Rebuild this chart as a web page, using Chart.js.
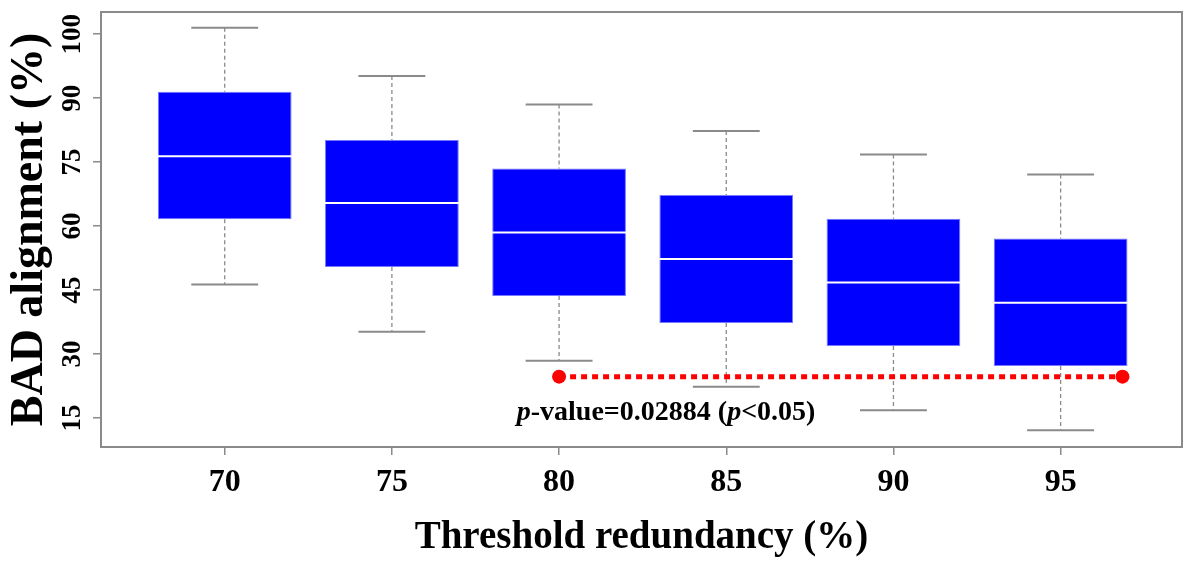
<!DOCTYPE html>
<html>
<head>
<meta charset="UTF-8">
<title>boxplot.html</title>
<style>
	body {margin: 0; background: #fff;}
	#wrap {width: 1189px; height: 561px;}
</style>
</head>
<body>
	<div id="wrap"><canvas id="boxChart"></canvas></div>
</body>
<script src="https://cdn.jsdelivr.net/npm/chart.js@4.4.0/dist/chart.umd.min.js"></script>
<script>
	// data
	const categories = [70, 75, 80, 85, 90, 95];
	const whiskerHigh = [106.5, 95.2, 88.5, 82.3, 76.8, 72.1];
	const q3 = [91.5, 80.2, 73.5, 67.3, 61.7, 57.1];
	const median = [76.4, 65.4, 58.5, 52.3, 46.8, 42.0];
	const q1 = [61.6, 50.4, 43.6, 37.3, 31.9, 27.2];
	const whiskerLow = [46.3, 35.2, 28.4, 22.3, 16.8, 12.1];

	// axis ticks (top tick is printed as 100)
	const yTickValues = [15, 30, 45, 60, 75, 90, 105];
	const yTickLabels = ['15', '30', '45', '60', '75', '90', '100'];

	// significance line between 80 and 95
	const pLineX = [80, 96.85];
	const pLineY = [24.7, 24.7];
	const pTextPos = [83.2, 16.2];
	const pTextParts = [['p', true], ['-value=0.02884 (', false], ['p', true], ['<0.05)', false]];

	const serif = "'Liberation Serif', 'Times New Roman', serif";
	const gray = '#8a8a8a';

	// whiskers behind the boxes, medians + frame + text on top
	const boxPlugin = {
		id: 'boxParts',
		beforeDatasetsDraw(chart) {
			const ctx = chart.ctx;
			const x = chart.scales.x, y = chart.scales.y;
			ctx.save();
			for (let i = 0; i < categories.length; i++) {
				const cx = x.getPixelForValue(categories[i]);
				ctx.strokeStyle = gray;
				ctx.lineWidth = 1.3;
				ctx.setLineDash([4, 3]);
				ctx.beginPath();
				ctx.moveTo(cx, y.getPixelForValue(whiskerHigh[i]));
				ctx.lineTo(cx, y.getPixelForValue(q3[i]));
				ctx.moveTo(cx, y.getPixelForValue(q1[i]));
				ctx.lineTo(cx, y.getPixelForValue(whiskerLow[i]));
				ctx.stroke();
				ctx.setLineDash([]);
				ctx.lineWidth = 2;
				const l = x.getPixelForValue(categories[i] - 1), r = x.getPixelForValue(categories[i] + 1);
				ctx.beginPath();
				[whiskerHigh[i], whiskerLow[i]].forEach(function(v) {
					const py = y.getPixelForValue(v);
					ctx.moveTo(l, py);
					ctx.lineTo(r, py);
				});
				ctx.stroke();
			}
			ctx.restore();
		},
		afterDatasetsDraw(chart) {
			const ctx = chart.ctx;
			const x = chart.scales.x, y = chart.scales.y;
			ctx.save();
			ctx.strokeStyle = '#ffffff';
			ctx.lineWidth = 2;
			for (let i = 0; i < categories.length; i++) {
				const py = y.getPixelForValue(median[i]);
				ctx.beginPath();
				ctx.moveTo(x.getPixelForValue(categories[i] - 2), py);
				ctx.lineTo(x.getPixelForValue(categories[i] + 2), py);
				ctx.stroke();
			}
			// p-value text, italic p
			ctx.fillStyle = '#000';
			ctx.textBaseline = 'middle';
			ctx.textAlign = 'left';
			let total = 0;
			const widths = pTextParts.map(function(p) {
				ctx.font = (p[1] ? 'italic ' : '') + 'bold 28px ' + serif;
				const w = ctx.measureText(p[0]).width;
				total += w;
				return w;
			});
			let tx = x.getPixelForValue(pTextPos[0]) - total / 2;
			const ty = y.getPixelForValue(pTextPos[1]);
			pTextParts.forEach(function(p, k) {
				ctx.font = (p[1] ? 'italic ' : '') + 'bold 28px ' + serif;
				ctx.fillText(p[0], tx, ty);
				tx += widths[k];
			});
			// frame
			const a = chart.chartArea;
			ctx.strokeStyle = gray;
			ctx.lineWidth = 2;
			ctx.strokeRect(a.left, a.top, a.right - a.left, a.bottom - a.top);
			ctx.restore();
		}
	};

	const ctx = document.getElementById('boxChart');
	const chart = new Chart(ctx, {
		type: 'bar',
		data: {
			datasets: [{
				type: 'line',
				data: pLineX.map(function(v, i) { return {x: v, y: pLineY[i]}; }),
				borderColor: '#ff0000',
				borderWidth: 5,
				borderDash: [6, 5],
				pointRadius: 7,
				pointBackgroundColor: '#ff0000',
				pointBorderWidth: 0,
				order: 0
			}, {
				data: categories.map(function(c, i) { return {x: c, y: [q1[i], q3[i]]}; }),
				backgroundColor: '#0000ff',
				borderColor: '#7777ff',
				borderWidth: 1,
				borderSkipped: false,
				barPercentage: 1.0,
				categoryPercentage: 0.8,
				order: 1
			}]
		},
		options: {
			responsive: true,
			maintainAspectRatio: false,
			animation: false,
			layout: {padding: {top: 12, right: 2, left: 0, bottom: 0}},
			plugins: {legend: {display: false}, tooltip: {enabled: false}},
			scales: {
				x: {
					type: 'linear',
					min: 66.3,
					max: 98.63,
					offset: false,
					afterBuildTicks: function(scale) {
						scale.ticks = categories.map(function(v) { return {value: v}; });
					},
					afterFit: function(scale) {
						scale.height = 114;
						scale.paddingLeft = 0;
						scale.paddingRight = 0;
					},
					grid: {display: true, offset: false, drawOnChartArea: false, drawTicks: true, tickLength: 8, color: gray, lineWidth: 1.5},
					border: {display: false},
					ticks: {
						color: '#000',
						padding: 9,
						font: {family: serif, size: 32, weight: 'bold'},
						callback: function(v) { return String(v); }
					},
					title: {
						display: true,
						text: 'Threshold redundancy (%)',
						color: '#000',
						padding: 0,
						font: {family: serif, size: 39, weight: 'bold'}
					}
				},
				y: {
					type: 'linear',
					min: 8.2,
					max: 110.2,
					afterBuildTicks: function(scale) {
						scale.ticks = yTickValues.map(function(v) { return {value: v}; });
					},
					afterFit: function(scale) {
						scale.width = 101;
						scale.paddingTop = 0;
						scale.paddingBottom = 0;
					},
					grid: {display: true, drawOnChartArea: false, drawTicks: true, tickLength: 8, color: gray, lineWidth: 1.5},
					border: {display: false},
					ticks: {
						color: '#000',
						padding: 0,
						minRotation: 90,
						maxRotation: 90,
						crossAlign: 'center',
						font: {family: serif, size: 27, weight: 'bold'},
						callback: function(v) {
							const k = yTickValues.indexOf(v);
							return k >= 0 ? yTickLabels[k] : '';
						}
					},
					title: {
						display: true,
						text: 'BAD alignment (%)',
						color: '#000',
						padding: {top: 3, bottom: 0},
						font: {family: serif, size: 46, weight: 'bold'}
					}
				}
			}
		},
		plugins: [boxPlugin]
	});
</script>
</html>
